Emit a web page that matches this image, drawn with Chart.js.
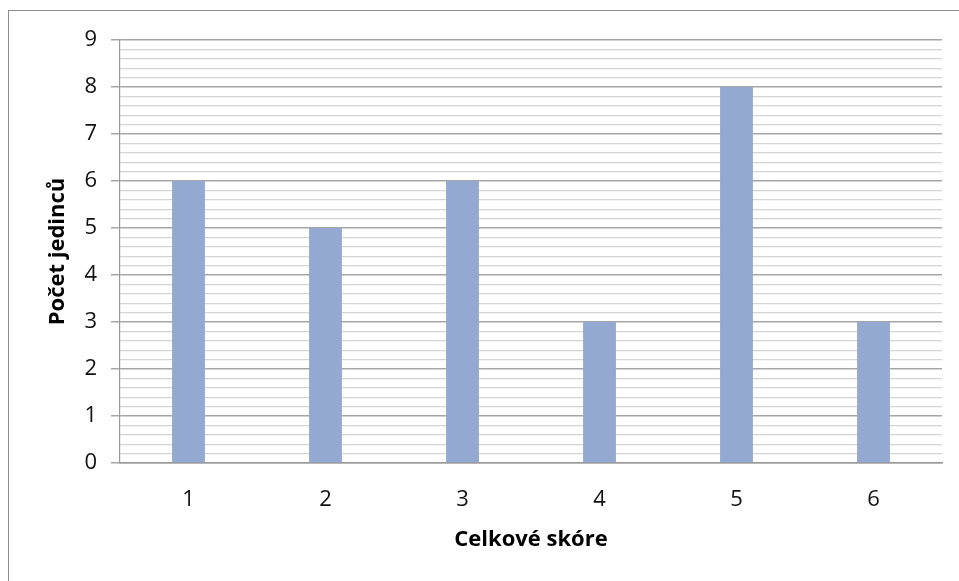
<!DOCTYPE html>
<html>
<head>
<meta charset="utf-8">
<script src="https://cdn.jsdelivr.net/npm/chart.js@4/dist/chart.umd.min.js"></script>
<style>
html,body{margin:0;padding:0;background:#fff;}
#wrap{width:959px;height:581px;position:relative;}
</style>
</head>
<body>
<div id="wrap"><canvas id="c" width="959" height="581"></canvas></div>
<script>
const categories = ['1','2','3','4','5','6'];
const counts = [6, 5, 6, 3, 8, 3];
const xTitle = 'Celkové skóre';
const yTitle = 'Počet jedinců';

const isInt = v => Math.abs(v - Math.round(v)) < 1e-6;

const frame = {
  id: 'frame',
  beforeDraw(chart) {
    const ctx = chart.ctx;
    ctx.save();
    ctx.fillStyle = '#fff';
    ctx.fillRect(0, 0, chart.width, chart.height);
    ctx.strokeStyle = '#8c8c8c';
    ctx.lineWidth = 1;
    ctx.strokeRect(8.5, 10.5, 1000, 1000);
    ctx.restore();
  }
};

Chart.defaults.font.family = '"Open Sans", sans-serif';
Chart.defaults.color = '#000';

new Chart(document.getElementById('c'), {
  type: 'bar',
  data: {
    labels: categories,
    datasets: [{
      data: counts,
      backgroundColor: '#94a9d1',
      borderWidth: 0,
      categoryPercentage: 1,
      barPercentage: 0.24
    }]
  },
  options: {
    responsive: false,
    animation: false,
    devicePixelRatio: 1,
    layout: { padding: { top: 40, right: 17, left: 0, bottom: 0 } },
    plugins: { legend: { display: false }, tooltip: { enabled: false } },
    scales: {
      x: {
        grid: { display: false },
        border: { display: true, color: '#9a9a9a', width: 1.5 },
        ticks: { font: { size: 22 }, padding: 16, color: '#111' },
        title: { display: true, text: xTitle, font: { size: 22, weight: 'bold' }, padding: { top: 0, bottom: 28 }, color: '#000' },
        afterFit(s) { s.height = 118; }
      },
      y: {
        min: 0, max: 9,
        ticks: {
          stepSize: 0.2,
          autoSkip: false,
          font: { size: 22 },
          color: '#111',
          padding: 14,
          callback: v => isInt(v) ? String(Math.round(v)) : ''
        },
        grid: {
          color: ctx => isInt(ctx.tick.value) ? '#a6a6a6' : '#d4d4d4',
          lineWidth: ctx => isInt(ctx.tick.value) ? 1.5 : 1.2,
          tickColor: ctx => isInt(ctx.tick.value) ? '#a6a6a6' : 'rgba(0,0,0,0)',
          tickLength: 9
        },
        border: { display: true, color: '#9a9a9a', width: 1.2 },
        title: { display: true, text: yTitle, font: { size: 22, weight: 'bold' }, color: '#000', padding: { top: 45, bottom: 0 } },
        afterFit(s) { s.width = 120; }
      }
    }
  },
  plugins: [frame]
});
</script>
</body>
</html>
